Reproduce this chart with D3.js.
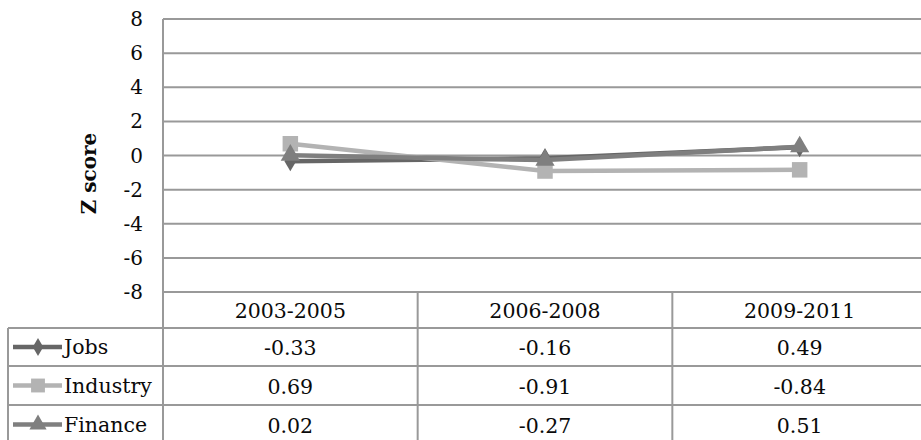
<!DOCTYPE html>
<html><head><meta charset="utf-8">
<script src="https://cdn.jsdelivr.net/npm/d3@7"></script>
<style>body{margin:0;background:#fff}svg{display:block}</style>
</head><body>
<svg id="c" width="921" height="440"></svg>
<script>
const categories = ["2003-2005","2006-2008","2009-2011"];
const seriesNames = ["Jobs","Industry","Finance"];
const jobs = [-0.33,-0.16,0.49];
const industry = [0.69,-0.91,-0.84];
const finance = [0.02,-0.27,0.51];
const yTicks = [8,6,4,2,0,-2,-4,-6,-8];
const yLabel = "Z score";

const series = [
  {name:seriesNames[0], values:jobs, color:"#666666", marker:"diamond"},
  {name:seriesNames[1], values:industry, color:"#b3b3b3", marker:"square"},
  {name:seriesNames[2], values:finance, color:"#7f7f7f", marker:"triangle"}
];

const svg = d3.select("#c");
const font = "'DejaVu Serif', Georgia, serif";
const pLeft = 163, pRight = 927, pTop = 19, pBottom = 292;
const x = d3.scaleBand().domain(categories).range([pLeft,pRight]);
const y = d3.scaleLinear().domain([-8,8]).range([pBottom,pTop]);
const gridColor = "#999999";
const txt = "#0a0a0a";
const fs = 20.5;

svg.append("g").selectAll("line").data(yTicks).join("line")
  .attr("x1",pLeft).attr("x2",pRight)
  .attr("y1",d=>y(d)).attr("y2",d=>y(d))
  .attr("stroke",gridColor).attr("stroke-width",2);
svg.append("line").attr("x1",pLeft).attr("x2",pLeft).attr("y1",pTop).attr("y2",440)
  .attr("stroke",gridColor).attr("stroke-width",2);
svg.append("g").selectAll("text").data(yTicks).join("text")
  .attr("x",143).attr("y",d=>y(d)).attr("dy","0.35em")
  .attr("text-anchor","end").attr("font-family",font).attr("font-size",20)
  .attr("fill",txt).text(d=>d);
svg.append("text").attr("transform",`translate(96,${y(0)+18}) rotate(-90)`)
  .attr("text-anchor","middle").attr("font-family",font).attr("font-weight","bold")
  .attr("font-size",20).attr("fill",txt).text(yLabel);

const sym = {diamond:d3.symbolDiamond, square:d3.symbolSquare, triangle:d3.symbolTriangle};
const symSize = {diamond:120, square:240, triangle:160};
function drawMarker(g, s, cx, cy, scale=1){
  g.append("path").attr("d", d3.symbol().type(sym[s.marker]).size(symSize[s.marker]*scale)())
   .attr("transform",`translate(${cx},${cy})`).attr("fill",s.color);
}

const line = d3.line().x((d,i)=>x(categories[i])+x.bandwidth()/2).y(d=>y(d));
const plot = svg.append("g");
series.forEach(s=>{
  plot.append("path").datum(s.values).attr("d",line).attr("fill","none")
    .attr("stroke",s.color).attr("stroke-width",4.5).attr("stroke-linejoin","round");
  s.values.forEach((v,i)=>drawMarker(plot,s,x(categories[i])+x.bandwidth()/2,y(v)));
});

const rowY = [292,328,366,405,444];
const t = svg.append("g");
categories.forEach(c=>{
  t.append("text").attr("x",x(c)+x.bandwidth()/2).attr("y",(rowY[0]+rowY[1])/2+1).attr("dy","0.35em")
   .attr("text-anchor","middle").attr("font-family",font).attr("font-size",fs).attr("fill",txt).text(c);
});
categories.forEach(c=>{
  t.append("line").attr("x1",x(c)+x.bandwidth()).attr("x2",x(c)+x.bandwidth())
   .attr("y1",rowY[0]).attr("y2",rowY[4]).attr("stroke",gridColor).attr("stroke-width",2);
});
t.append("line").attr("x1",8).attr("x2",8).attr("y1",rowY[1]).attr("y2",rowY[4])
  .attr("stroke",gridColor).attr("stroke-width",2);
[1,2,3,4].forEach(k=>{
  t.append("line").attr("x1",8).attr("x2",pRight).attr("y1",rowY[k]).attr("y2",rowY[k])
   .attr("stroke",gridColor).attr("stroke-width",2);
});
series.forEach((s,r)=>{
  const cy = (rowY[r+1]+rowY[r+2])/2;
  t.append("line").attr("x1",13).attr("x2",62).attr("y1",cy).attr("y2",cy)
   .attr("stroke",s.color).attr("stroke-width",4.5);
  drawMarker(t,s,38,cy,0.8);
  t.append("text").attr("x",64).attr("y",cy).attr("dy","0.35em")
   .attr("font-family",font).attr("font-size",fs).attr("fill",txt).text(s.name);
  s.values.forEach((v,i)=>{
    t.append("text").attr("x",x(categories[i])+x.bandwidth()/2).attr("y",cy+1).attr("dy","0.35em")
     .attr("text-anchor","middle").attr("font-family",font).attr("font-size",fs).attr("fill",txt)
     .text(v.toFixed(2));
  });
});
</script>
</body></html>
